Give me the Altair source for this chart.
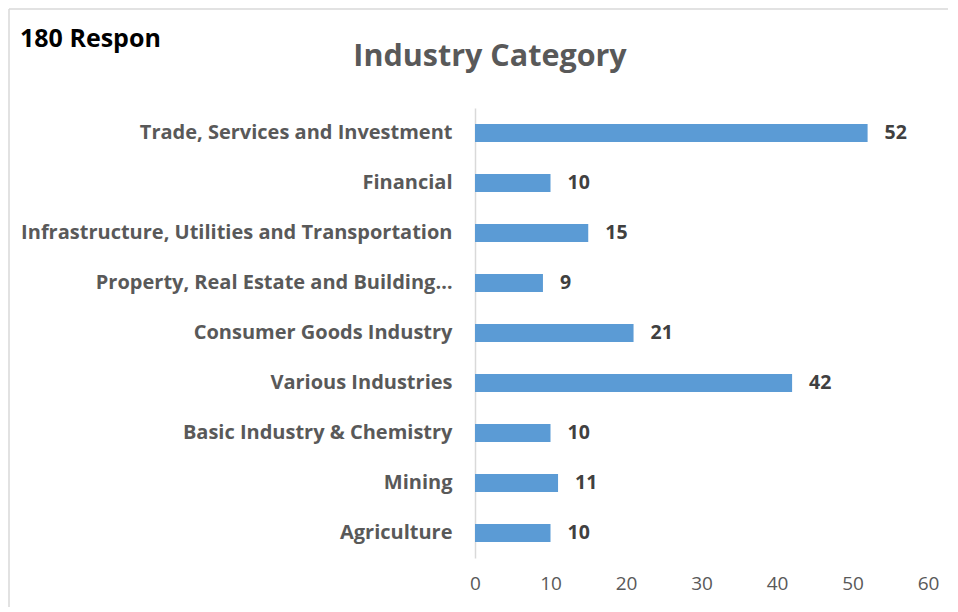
import altair as alt
import pandas as pd

categories = [
    "Trade, Services and Investment",
    "Financial",
    "Infrastructure, Utilities and Transportation",
    "Property, Real Estate and Building…",
    "Consumer Goods Industry",
    "Various Industries",
    "Basic Industry & Chemistry",
    "Mining",
    "Agriculture",
]
values = [52, 10, 15, 9, 21, 42, 10, 11, 10]
x_ticks = [0, 10, 20, 30, 40, 50, 60]

df = pd.DataFrame({"category": categories, "value": values})

FONT = "Open Sans"
W, H = 453, 450

y_enc = alt.Y(
    "category:N",
    sort=categories,
    title=None,
    scale=alt.Scale(paddingInner=0.64, paddingOuter=0.32),
    axis=alt.Axis(
        labelFont=FONT, labelFontSize=20, labelFontWeight="bold", labelColor="#595959",
        labelPadding=23, ticks=False, domainColor="#D9D9D9", domainWidth=1.5,
        labelLimit=500,
    ),
)
x_enc = alt.X(
    "value:Q",
    title=None,
    scale=alt.Scale(domain=[0, 60], nice=False),
    axis=alt.Axis(
        values=x_ticks, grid=False, ticks=False, domain=False, labelFlush=False,
        labelFont=FONT, labelFontSize=19, labelColor="#595959", labelPadding=16,
    ),
)

bars = alt.Chart(df).mark_bar(color="#5B9BD5").encode(x=x_enc, y=y_enc)
labels = alt.Chart(df).mark_text(
    align="left", baseline="middle", dx=17, font=FONT, fontSize=19.5,
    fontWeight="bold", color="#404040",
).encode(x=x_enc, y=y_enc, text="value:Q")

frame_top = alt.Chart(df.head(1)).mark_rule(color="#D9D9D9", strokeWidth=1.5).encode(
    x=alt.value(-466), x2=alt.value(W + 40), y=alt.value(-99)
)
frame_left = alt.Chart(df.head(1)).mark_rule(color="#D9D9D9", strokeWidth=1.5).encode(
    x=alt.value(-466), y=alt.value(-99), y2=alt.value(H + 80)
)

title = alt.Chart(df.head(1)).mark_text(
    font=FONT, fontSize=30.5, fontWeight="bold", color="#595959", align="center", baseline="middle"
).encode(x=alt.value(15), y=alt.value(-51), text=alt.value("Industry Category"))

respon = alt.Chart(df.head(1)).mark_text(
    font=FONT, fontSize=25, fontWeight="bold", color="#000000", align="left", baseline="middle"
).encode(x=alt.value(-455), y=alt.value(-69), text=alt.value("180 Respon"))

chart = alt.layer(frame_top, frame_left, bars, labels, title, respon).properties(
    width=W, height=H,
    autosize=alt.AutoSizeParams(type="none"),
    padding={"left": 467, "top": 100, "right": 20, "bottom": 49},
).configure(background="white").configure_view(stroke="transparent")

chart.save("out.html", embed_options={"renderer": "svg", "actions": False})
